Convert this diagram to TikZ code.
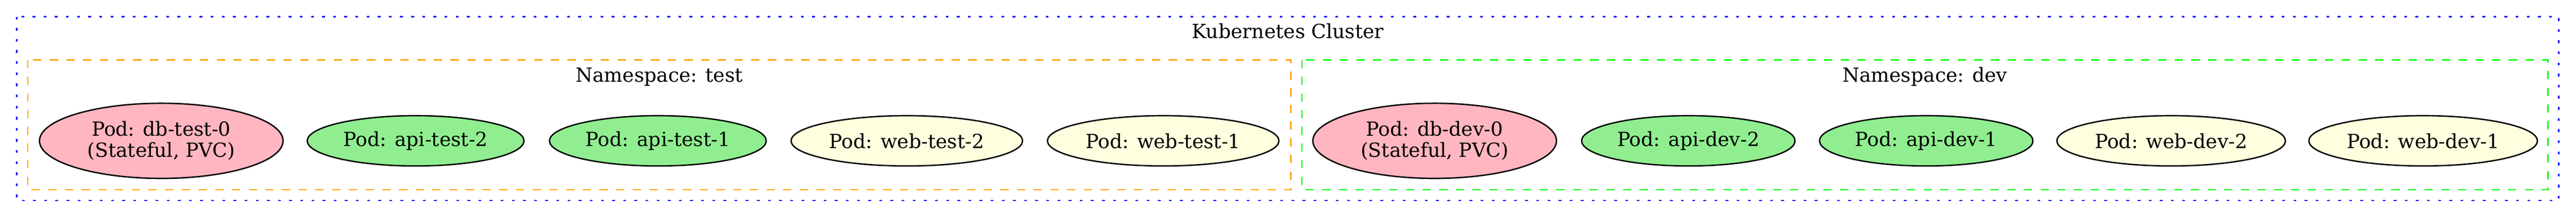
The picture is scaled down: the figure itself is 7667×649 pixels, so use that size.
\documentclass[tikz,border=0pt]{standalone}
\usepackage{fontspec}
\setmainfont{DejaVu Serif}
\usepackage{tikz}
\usetikzlibrary{shapes.geometric}
\definecolor{podpink}{HTML}{FFB6C1}
\definecolor{podgreen}{HTML}{90EE90}
\definecolor{podyellow}{HTML}{FFFFE0}
\definecolor{nsorange}{HTML}{FFA500}
\definecolor{nsgreen}{HTML}{00FF00}

\begin{document}
\begin{tikzpicture}[x=0.2414pt,y=0.2414pt]
\tikzstyle{every node}+=[inner sep=0pt, font=\fontsize{14}{15.2}\selectfont]
\tikzstyle{pod}=[ellipse, draw=black, line width=1pt, align=center, minimum height=36.2pt]
\tikzstyle{dbpod}=[pod, fill=podpink, minimum width=175pt, minimum height=54.1pt]
\tikzstyle{apipod}=[pod, fill=podgreen]
\tikzstyle{webpod}=[pod, fill=podyellow]
\tikzstyle{nsbox}=[line width=1pt, dash pattern=on 6pt off 6pt]
\useasboundingbox (0,0) rectangle (7667,-649);
\draw [blue, line width=1pt, dash pattern=on 2pt off 6pt] (50,-50) rectangle (7616,-598);
\node [anchor=base] (kcluster) at (3833,-114) {Kubernetes Cluster};
\draw [nsbox, nsorange] (83,-179) rectangle (3842,-566);
\node [anchor=base] (nstest) at (1962,-245) {Namespace: test};
\draw [nsbox, nsgreen] (3875,-179) rectangle (7583,-566);
\node [anchor=base] (nsdev) at (5729,-245) {Namespace: dev};
\node [dbpod] (dbtest0) at (480,-420) {Pod: db-test-0\\(Stateful, PVC)};
\node [apipod, minimum width=155.7pt] (apitest2) at (1237,-420) {Pod: api-test-2};
\node [apipod, minimum width=155.7pt] (apitest1) at (1958,-420) {Pod: api-test-1};
\node [webpod, minimum width=166.3pt] (webtest2) at (2699,-420) {Pod: web-test-2};
\node [webpod, minimum width=166.3pt] (webtest1) at (3462,-420) {Pod: web-test-1};
\node [dbpod] (dbdev0) at (4270,-420) {Pod: db-dev-0\\(Stateful, PVC)};
\node [apipod, minimum width=153.3pt] (apidev2) at (5025,-420) {Pod: api-dev-2};
\node [apipod, minimum width=153.3pt] (apidev1) at (5733,-420) {Pod: api-dev-1};
\node [webpod, minimum width=164.2pt] (webdev2) at (6462,-420) {Pod: web-dev-2};
\node [webpod, minimum width=164.2pt] (webdev1) at (7212,-420) {Pod: web-dev-1};
\end{tikzpicture}
\end{document}
